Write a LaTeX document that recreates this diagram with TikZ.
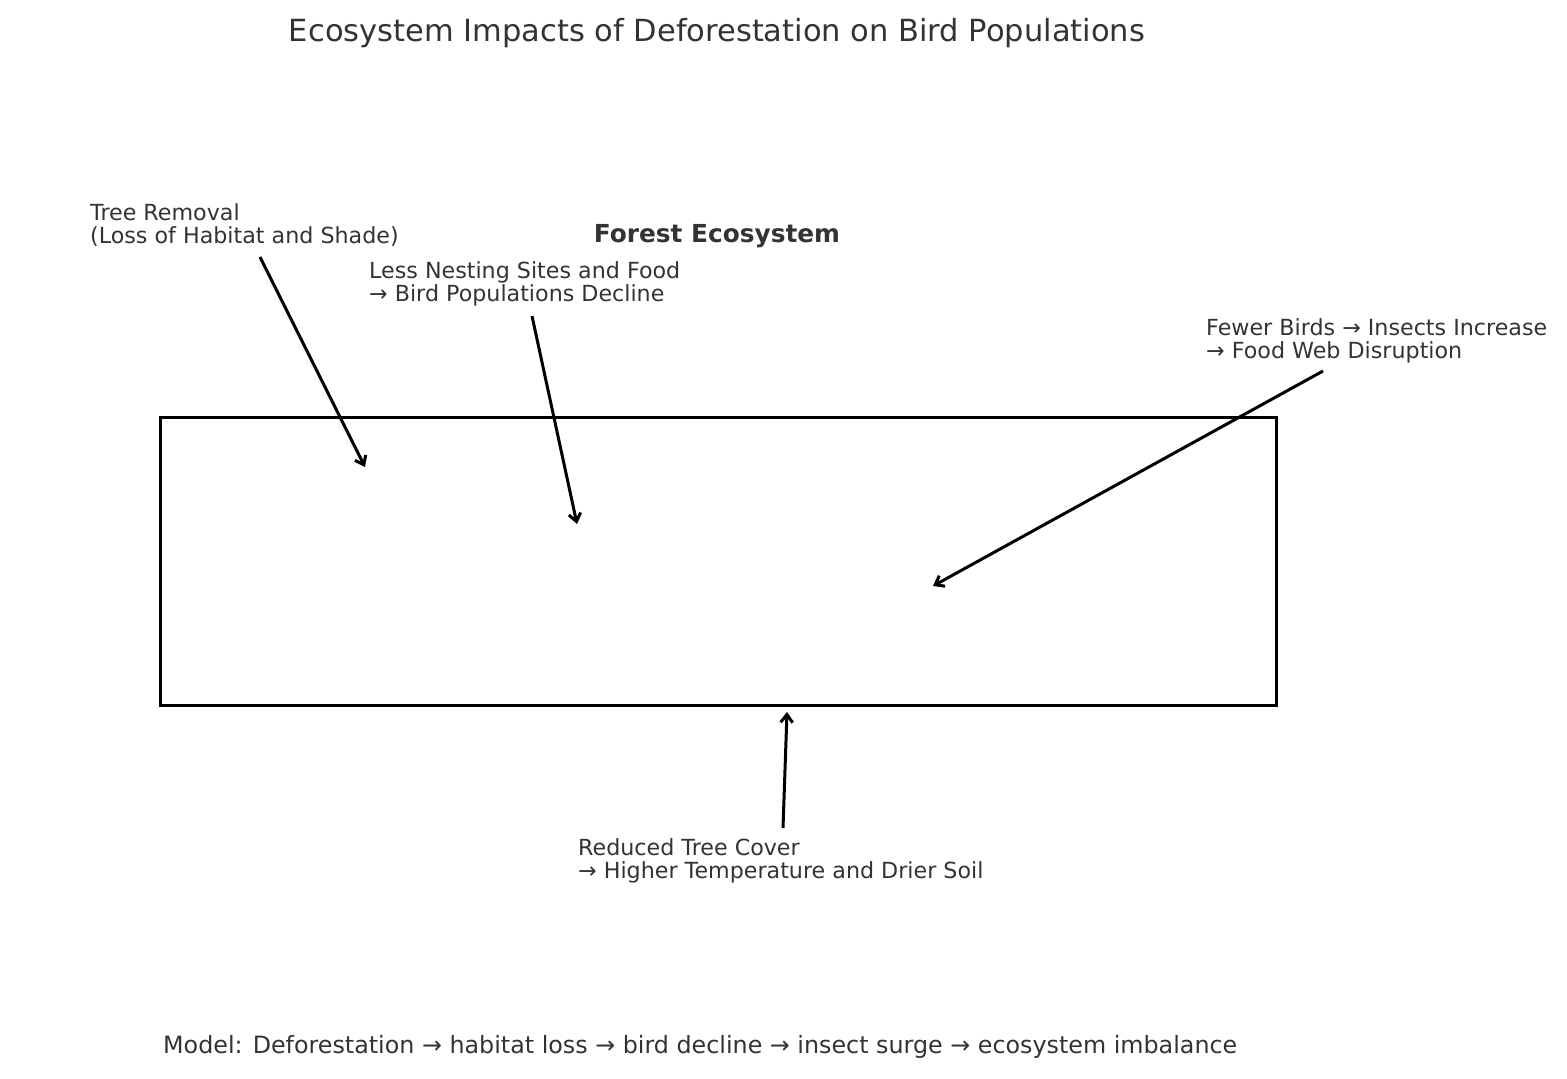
\documentclass[tikz,border=0pt]{standalone}
\usepackage{fontspec}
\setmainfont{DejaVu Sans}
\usetikzlibrary{arrows.meta}
\begin{document}
\begin{tikzpicture}[x=1pt,y=-1pt,
  lbl/.style={anchor=north west,inner sep=0pt,text=black!80,font=\fontsize{22.2}{23.5}\selectfont,align=left},
  arr/.style={line width=3pt,-{Straight Barb[length=8pt,width=12pt]}}]
\useasboundingbox (0,0) rectangle (1567,1079);
\node[text=black!80,font=\fontsize{30.5}{34}\selectfont] (title) at (717,33) {Ecosystem Impacts of Deforestation on Bird Populations};
\draw[line width=3pt] (160,417) rectangle (1276,705);
\node[text=black!80,font=\fontsize{24.8}{28}\bfseries] (fe) at (717,236) {Forest Ecosystem};
\node[lbl] (l1) at (90,203) {Tree Removal\\(Loss of Habitat and Shade)};
\node[lbl] (l2) at (369,261) {Less Nesting Sites and Food\\→ Bird Populations Decline};
\node[lbl] (l3) at (1206,318) {Fewer Birds → Insects Increase\\→ Food Web Disruption};
\node[lbl] (l4) at (578,838) {Reduced Tree Cover\\→ Higher Temperature and Drier Soil};
\node[anchor=west,inner sep=0pt,text=black!80,font=\fontsize{23.8}{26}\selectfont] (model) at (163,1047) {Model: Deforestation → habitat loss → bird decline → insect surge → ecosystem imbalance};
\coordinate (a1s) at (260,257); \coordinate (a1e) at (365,467);
\coordinate (a2s) at (532,316); \coordinate (a2e) at (577,524);
\coordinate (a3s) at (1323,371); \coordinate (a3e) at (933,586);
\coordinate (a4s) at (783,828); \coordinate (a4e) at (787,712);
\draw[arr] (a1s) -- (a1e);
\draw[arr] (a2s) -- (a2e);
\draw[arr] (a3s) -- (a3e);
\draw[arr] (a4s) -- (a4e);
\end{tikzpicture}
\end{document}
